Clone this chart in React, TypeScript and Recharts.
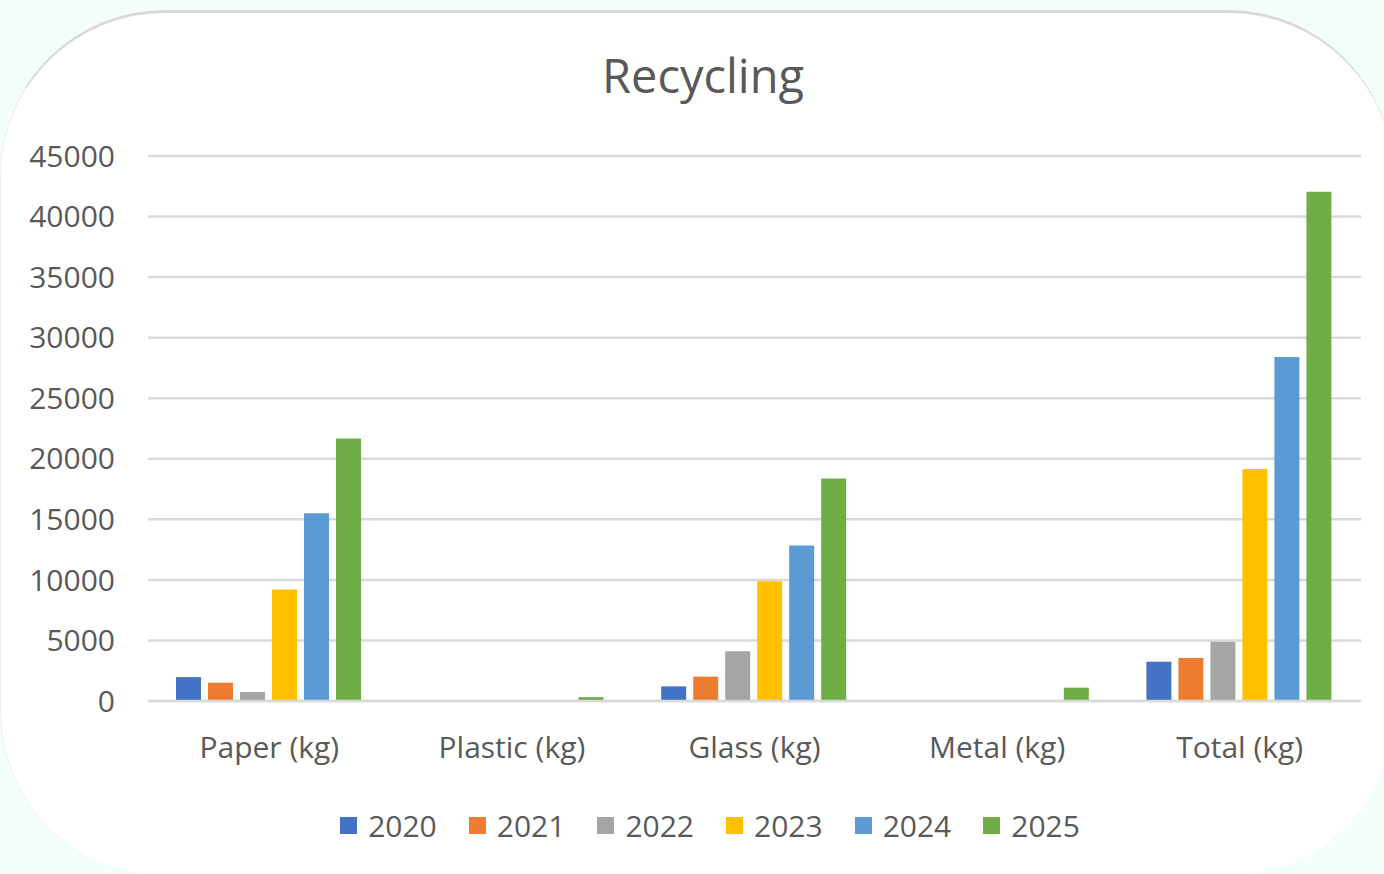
import React from "react"
import { BarChart, Bar, XAxis, YAxis, CartesianGrid, Legend } from "recharts"

const categories = ["Paper (kg)", "Plastic (kg)", "Glass (kg)", "Metal (kg)", "Total (kg)"]
const years = ["2020", "2021", "2022", "2023", "2024", "2025"]
const colors = ["#4472C4", "#ED7D31", "#A5A5A5", "#FFC000", "#5B9BD5", "#70AD47"]

const values2020 = [1970, 0, 1210, 0, 3250]
const values2021 = [1510, 0, 2010, 0, 3550]
const values2022 = [740, 0, 4110, 0, 4900]
const values2023 = [9200, 0, 9890, 0, 19150]
const values2024 = [15500, 0, 12840, 0, 28400]
const values2025 = [21670, 320, 18370, 1100, 42050]

const yTicks = [0, 5000, 10000, 15000, 20000, 25000, 30000, 35000, 40000, 45000]

const seriesValues = [values2020, values2021, values2022, values2023, values2024, values2025]

const data = categories.map((name, i) => {
  const row: Record<string, string | number> = { name }
  years.forEach((year, s) => {
    row[year] = seriesValues[s][i]
  })
  return row
})

const FONT = "'Open Sans', 'Noto Sans', sans-serif"
const TEXT = "#595959"

function YearLegend() {
  return (
    <div
      style={{
        height: 60,
        display: "flex",
        alignItems: "center",
        justifyContent: "center",
        paddingLeft: 59,
        fontFamily: FONT,
        fontSize: 30,
        color: TEXT,
      }}
    >
      {years.map((year, i) => (
        <div key={year} style={{ display: "flex", alignItems: "center", marginRight: i < years.length - 1 ? 32 : 0 }}>
          <span style={{ width: 17, height: 17, background: colors[i], marginRight: 11, display: "inline-block" }} />
          <span>{year}</span>
        </div>
      ))}
    </div>
  )
}

export default function App() {
  return (
    <div
      style={{
        position: "fixed",
        left: 0,
        top: 0,
        width: 1384,
        height: 874,
        overflow: "hidden",
        background: "#f2fdfc",
      }}
    >
      {/* rounded white card behind the chart */}
      <div
        style={{
          position: "absolute",
          left: 0,
          top: 10,
          width: 1393,
          height: 866,
          background: "#ffffff",
          borderRadius: 165,
          borderTop: "3px solid #d8d8d8",
          borderLeft: "1px solid #eeeeee",
          boxSizing: "border-box",
        }}
      />
      <div
        style={{
          position: "absolute",
          left: 703,
          top: 47,
          transform: "translateX(-50%)",
          fontFamily: FONT,
          fontSize: 47,
          color: TEXT,
          whiteSpace: "nowrap",
          lineHeight: 1.2,
        }}
      >
        Recycling
      </div>
      <div style={{ position: "absolute", left: 0, top: 0 }}>
        <BarChart
          width={1384}
          height={874}
          data={data}
          margin={{ top: 156, right: 23, left: 0, bottom: 19 }}
          barCategoryGap={28}
          barGap={7}
        >
          <CartesianGrid vertical={false} stroke="#d9d9d9" strokeWidth={2.5} />
          <XAxis
            dataKey="name"
            height={94}
            tickLine={false}
            axisLine={{ stroke: "#d9d9d9", strokeWidth: 2.5 }}
            tickSize={0}
            tickMargin={36}
            tick={{ fill: TEXT, fontSize: 30, fontFamily: FONT }}
            interval={0}
          />
          <YAxis
            width={148}
            domain={[0, 45000]}
            ticks={yTicks}
            tickLine={false}
            axisLine={false}
            tickSize={0}
            tickMargin={33}
            tick={{ fill: TEXT, fontSize: 30, fontFamily: FONT }}
            interval={0}
          />
          <Legend verticalAlign="bottom" content={() => <YearLegend />} />
          {years.map((year, i) => (
            <Bar key={year} dataKey={year} fill={colors[i]} isAnimationActive={false} />
          ))}
        </BarChart>
      </div>
    </div>
  )
}
